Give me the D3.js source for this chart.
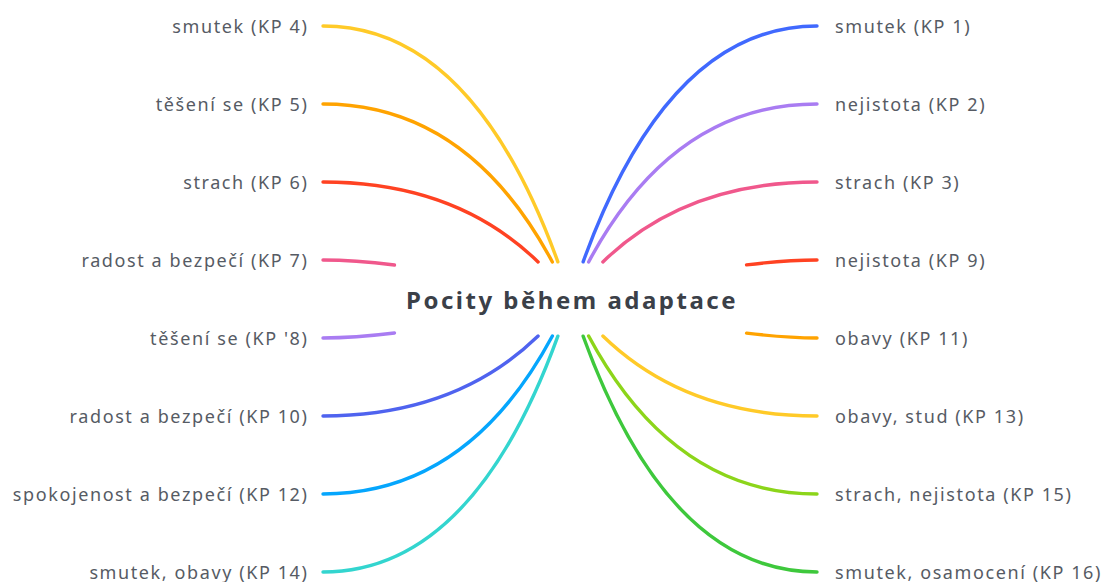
<!DOCTYPE html>
<html>
<head>
<meta charset="utf-8">
<script src="https://cdn.jsdelivr.net/npm/d3@7"></script>
<style>
  html, body { margin: 0; padding: 0; background: #fff; }
  svg { display: block; }
</style>
</head>
<body>
<svg id="chart" width="1103" height="582"></svg>
<script>
const title = "Pocity během adaptace";
const leftLabels = [
  "smutek (KP 4)",
  "těšení se (KP 5)",
  "strach (KP 6)",
  "radost a bezpečí (KP 7)",
  "těšení se (KP '8)",
  "radost a bezpečí (KP 10)",
  "spokojenost a bezpečí (KP 12)",
  "smutek, obavy (KP 14)"
];
const rightLabels = [
  "smutek (KP 1)",
  "nejistota (KP 2)",
  "strach (KP 3)",
  "nejistota (KP 9)",
  "obavy (KP 11)",
  "obavy, stud (KP 13)",
  "strach, nejistota (KP 15)",
  "smutek, osamocení (KP 16)"
];
const leftColors = ["#ffca28", "#ffa300", "#ff4222", "#f0588c", "#a97cf2", "#4f63ef", "#05a6fd", "#33d5cf"];
const rightColors = ["#4069fe", "#a97cf2", "#f0588c", "#ff4222", "#ffa300", "#ffca28", "#8cd51a", "#3ec83c"];

const svg = d3.select("#chart");
const cx = 570.5, cy = 299;
const boxHalfW = 176, boxHalfH = 37;

const y = d3.scaleLinear().domain([0, 7]).range([26, 572]);

const branches = [];
leftLabels.forEach((t, i) => branches.push({ side: -1, label: t, color: leftColors[i], i }));
rightLabels.forEach((t, i) => branches.push({ side: 1, label: t, color: rightColors[i], i }));

const lineEndLeft = 323, lineEndRight = 817;

function branchPath(d) {
  const x2 = d.side < 0 ? lineEndLeft : lineEndRight;
  const y2 = y(d.i);
  const dy = Math.abs(y2 - cy);
  const off = dy < 60 ? 160 : 87;
  const P0 = [cx, cy], P1 = [cx + d.side * off, y2], P2 = [x2, y2];
  const B = t => [
    (1 - t) * (1 - t) * P0[0] + 2 * t * (1 - t) * P1[0] + t * t * P2[0],
    (1 - t) * (1 - t) * P0[1] + 2 * t * (1 - t) * P1[1] + t * t * P2[1]
  ];
  let t0 = 0;
  for (let k = 0; k <= 2000; k++) {
    const t = k / 2000;
    const p = B(t);
    if (Math.abs(p[0] - cx) > boxHalfW || Math.abs(p[1] - cy) > boxHalfH) { t0 = t; break; }
  }
  const Q0 = B(t0);
  const Q1 = [(1 - t0) * P1[0] + t0 * P2[0], (1 - t0) * P1[1] + t0 * P2[1]];
  const p = d3.path();
  p.moveTo(Q0[0], Q0[1]);
  p.quadraticCurveTo(Q1[0], Q1[1], P2[0], P2[1]);
  return p.toString();
}

svg.append("g").selectAll("path").data(branches).join("path")
  .attr("d", branchPath)
  .attr("fill", "none")
  .attr("stroke", d => d.color)
  .attr("stroke-width", 3.4)
  .attr("stroke-linecap", "round");

svg.append("text")
  .attr("x", cx + 1.5).attr("y", cy)
  .attr("text-anchor", "middle")
  .attr("dominant-baseline", "central")
  .attr("font-family", "'Noto Sans', sans-serif")
  .attr("font-weight", "bold")
  .attr("font-size", 24)
  .attr("letter-spacing", 2.5)
  .attr("fill", "#3b4048")
  .text(title);

svg.append("g").selectAll("text").data(branches).join("text")
  .attr("x", d => d.side < 0 ? 308.5 : 835)
  .attr("y", d => y(d.i))
  .attr("text-anchor", d => d.side < 0 ? "end" : "start")
  .attr("dominant-baseline", "central")
  .attr("font-family", "'Noto Sans', sans-serif")
  .attr("font-size", 18)
  .attr("letter-spacing", 1.6)
  .attr("fill", "#565b64")
  .text(d => d.label);
</script>
</body>
</html>
